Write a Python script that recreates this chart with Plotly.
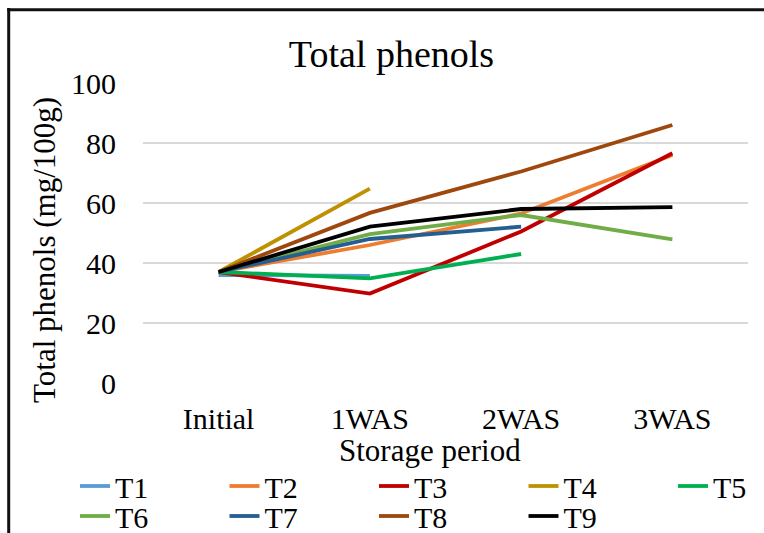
import plotly.graph_objects as go

categories = ["Initial", "1WAS", "2WAS", "3WAS"]
series_names = ["T1", "T2", "T3", "T4", "T5", "T6", "T7", "T8", "T9"]
T1 = [36.0, 35.7, None, None]
T2 = [37.0, 46.0, 56.5, 76.0]
T3 = [37.0, 29.8, 50.5, 76.6]
T4 = [37.0, 64.8, None, None]
T5 = [37.0, 34.9, 43.0, None]
T6 = [37.0, 49.6, 56.0, 47.9]
T7 = [37.0, 48.0, 52.1, None]
T8 = [37.0, 56.7, 70.5, 86.0]
T9 = [37.0, 52.1, 58.0, 58.6]
series_values = [T1, T2, T3, T4, T5, T6, T7, T8, T9]
colors = ["#5B9BD5", "#ED7D31", "#C00000", "#BF9000", "#00B050",
          "#70AD47", "#255E91", "#9E480E", "#000000"]
y_ticks = [0, 20, 40, 60, 80, 100]

FONT = "Liberation Serif"
W, H = 764, 533
L, R, T, B = 143, 16, 82, 149
pw, ph = W - L - R, H - T - B

def px_x(px):
    return (px - L) / pw

def px_y(py):
    return (H - B - py) / ph

fig = go.Figure()
for i, (name, vals, col) in enumerate(zip(series_names, series_values, colors)):
    fig.add_trace(go.Scatter(
        x=categories, y=vals, name=name, mode="lines",
        line=dict(color=col, width=3.8),
        connectgaps=False,
        legend="legend" if i < 5 else "legend2",
    ))

leg_common = dict(
    orientation="h", xanchor="left", yanchor="middle",
    entrywidth=104.5, entrywidthmode="pixels",
    font=dict(family=FONT, size=30, color="#000"),
    bgcolor="rgba(0,0,0,0)", borderwidth=0,
    tracegroupgap=0, itemwidth=30,
)

fig.update_layout(
    width=W, height=H,
    margin=dict(l=L, r=R, t=T, b=B, autoexpand=False),
    paper_bgcolor="white", plot_bgcolor="white",
    font=dict(family=FONT, color="#000"),
    title=dict(text="Total phenols", font=dict(family=FONT, size=38, color="#000"),
               x=391.5 / W, xref="container", xanchor="center",
               y=1 - 54 / H, yref="container", yanchor="middle"),
    xaxis=dict(range=[-0.5, 3.5], showgrid=False, zeroline=False, showline=False,
               ticks="", tickfont=dict(family=FONT, size=30, color="#000"),
               ticklabelstandoff=14),
    yaxis=dict(range=[-1/3, 100 + 1/3], tickvals=y_ticks, showgrid=True,
               gridcolor="#D9D9D9", gridwidth=2, zeroline=False, showline=False,
               ticks="", tickfont=dict(family=FONT, size=30, color="#000"),
               ticklabelstandoff=26),
    legend=dict(x=px_x(75), y=px_y(486), **leg_common),
    legend2=dict(x=px_x(75), y=px_y(516), **leg_common),
    showlegend=True,
)

fig.add_annotation(text="Storage period", xref="paper", yref="paper",
                   x=px_x(429.5), y=px_y(450), xanchor="center", yanchor="middle",
                   showarrow=False, font=dict(family=FONT, size=31, color="#000"))
fig.add_annotation(text="Total phenols (mg/100g)", xref="paper", yref="paper",
                   x=px_x(44), y=px_y(250), xanchor="center", yanchor="middle",
                   textangle=-90, showarrow=False,
                   font=dict(family=FONT, size=31, color="#000"))

# chart frame (left and top edges visible in the reference)
fig.add_shape(type="line", xref="paper", yref="paper",
              x0=px_x(8.7), x1=px_x(8.7), y0=px_y(8), y1=px_y(545),
              line=dict(color="#111", width=3))
fig.add_shape(type="line", xref="paper", yref="paper",
              x0=px_x(7.2), x1=px_x(775), y0=px_y(9.7), y1=px_y(9.7),
              line=dict(color="#111", width=3))

fig.write_html("out.html")
